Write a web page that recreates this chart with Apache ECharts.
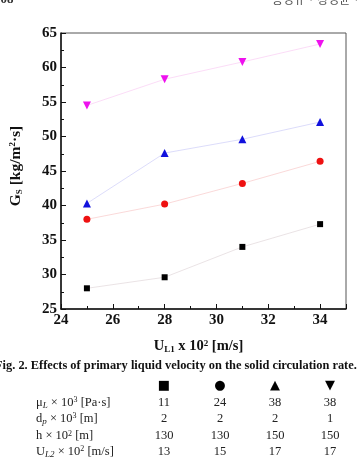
<!DOCTYPE html>
<html>
<head>
<meta charset="utf-8">
<script src="https://cdn.jsdelivr.net/npm/echarts@6/dist/echarts.min.js"></script>
<style>
  html, body { margin: 0; padding: 0; background: #fff; }
  #main { width: 357px; height: 463px; }
</style>
</head>
<body>
<div id="main"></div>
<script>
// data
var velocity = [25, 28, 31, 34]
var gsSquare = [28.0, 29.6, 34.0, 37.3]
var gsCircle = [38.0, 40.2, 43.2, 46.4]
var gsUp = [40.3, 47.6, 49.6, 52.1]
var gsDown = [54.5, 58.3, 60.8, 63.4]

// table under the caption
var tableSymbols = ['■', '●', '▲', '▼']
var rowLabels = [
  'μ{it|L} × 10{sup|3} [Pa·s]',
  'd{it|p} × 10{sup|3} [m]',
  'h × 10{sup|2} [m]',
  'U{it|L2} × 10{sup|2} [m/s]'
]
var viscosity = [11, 24, 38, 38]
var particle = [2, 2, 2, 1]
var height = [130, 130, 150, 150]
var secVel = [13, 15, 17, 17]

var serif = '"Liberation Serif", "Times New Roman", serif'

function pairs(ys) {
  return velocity.map(function (x, i) { return [x, ys[i]] })
}

function line(name, ys, color, lineColor, symbol, size, rotate) {
  return {
    name: name,
    type: 'line',
    data: pairs(ys),
    symbol: symbol,
    symbolSize: size,
    symbolRotate: rotate || 0,
    itemStyle: { color: color },
    lineStyle: { color: lineColor, width: 0.6 },
    z: 3
  }
}

var richSmall = {
  sub: { fontSize: 9, verticalAlign: 'bottom', fontFamily: serif, fontWeight: 'bold', padding: [6, 0, 0, 0] },
  sup: { fontSize: 9, verticalAlign: 'top', fontFamily: serif, fontWeight: 'bold', padding: [0, 0, 6, 0] }
}

var graphics = []
// page header bits (cut by the crop)
graphics.push({ type: 'text', left: -6, top: -7, style: { text: '708', font: 'bold 13px ' + serif, fill: '#333' } })
graphics.push({ type: 'text', left: 272, top: -7, style: { text: '홍성규 · 장영균 ·', font: '12px "Noto Sans CJK KR"', fill: '#555' } })
// caption
graphics.push({ type: 'text', left: -5, top: 360, style: { text: 'Fig. 2. Effects of primary liquid velocity on the solid circulation rate.', font: 'bold 12.4px ' + serif, fill: '#111' } })

var colX = [164, 220, 275, 330]
tableSymbols.forEach(function (s, i) {
  graphics.push({ type: 'text', x: colX[i], y: 386, style: { text: s, font: '13px "DejaVu Sans"', fill: '#000', align: 'center', verticalAlign: 'middle' } })
})
var rows = [viscosity, particle, height, secVel]
var rowY = [403, 419, 436, 452]
rows.forEach(function (vals, r) {
  graphics.push({
    type: 'text', x: 36, y: rowY[r],
    style: {
      text: rowLabels[r],
      font: '12.5px ' + serif, fill: '#222', verticalAlign: 'middle',
      rich: {
        it: { fontStyle: 'italic', fontSize: 9, fontFamily: serif, verticalAlign: 'bottom', padding: [5, 0, 0, 0] },
        sup: { fontSize: 8, fontFamily: serif, verticalAlign: 'top', padding: [0, 0, 5, 0] }
      }
    }
  })
  vals.forEach(function (v, i) {
    graphics.push({ type: 'text', x: colX[i], y: rowY[r], style: { text: String(v), font: '12.5px ' + serif, fill: '#222', align: 'center', verticalAlign: 'middle' } })
  })
})

var chart = echarts.init(document.getElementById('main'))
chart.setOption({
  animation: false,
  backgroundColor: '#fff',
  grid: { left: 58, top: 33, width: 288, height: 276, show: true, borderColor: '#555', borderWidth: 1, containLabel: false },
  xAxis: {
    type: 'value', min: 24, max: 35, interval: 2,
    name: 'U{sub|L1} x 10{sup|2} [m/s]',
    nameLocation: 'middle', nameGap: 30,
    nameTextStyle: { fontFamily: serif, fontWeight: 'bold', fontSize: 14.5, color: '#111', rich: richSmall, padding: [0, 10, 0, 0] },
    axisLine: { lineStyle: { color: '#111', width: 1.5 } },
    axisTick: { inside: true, length: 5, lineStyle: { color: '#111' } },
    minorTick: { show: true, splitNumber: 2, length: 3, lineStyle: { color: '#111' } },
    axisLabel: { fontFamily: serif, fontWeight: 'bold', fontSize: 15, color: '#111', margin: 4, showMaxLabel: false },
    splitLine: { show: false }
  },
  yAxis: {
    type: 'value', min: 25, max: 65, interval: 5,
    name: 'G{sub|S} [kg/m{sup|2}·s]',
    nameLocation: 'middle', nameGap: 37, nameRotate: 90,
    nameTextStyle: { fontFamily: serif, fontWeight: 'bold', fontSize: 15.5, color: '#111', rich: richSmall, padding: [0, 0, 0, 10] },
    axisLine: { lineStyle: { color: '#111', width: 1.5 } },
    axisTick: { inside: true, length: 5, lineStyle: { color: '#111' } },
    minorTick: { show: true, splitNumber: 2, length: 3, lineStyle: { color: '#111' } },
    axisLabel: { fontFamily: serif, fontWeight: 'bold', fontSize: 15, color: '#111', margin: 4 },
    splitLine: { show: false }
  },
  series: [
    line('square', gsSquare, '#000', '#dcd0d4', 'rect', 6),
    line('circle', gsCircle, '#ee1111', '#f6c0c0', 'circle', 7),
    line('up', gsUp, '#1111dd', '#c4c4f6', 'triangle', 8),
    line('down', gsDown, '#ee11ee', '#f8c4f2', 'triangle', 8, 180)
  ],
  graphic: graphics
})
</script>
</body>
</html>
